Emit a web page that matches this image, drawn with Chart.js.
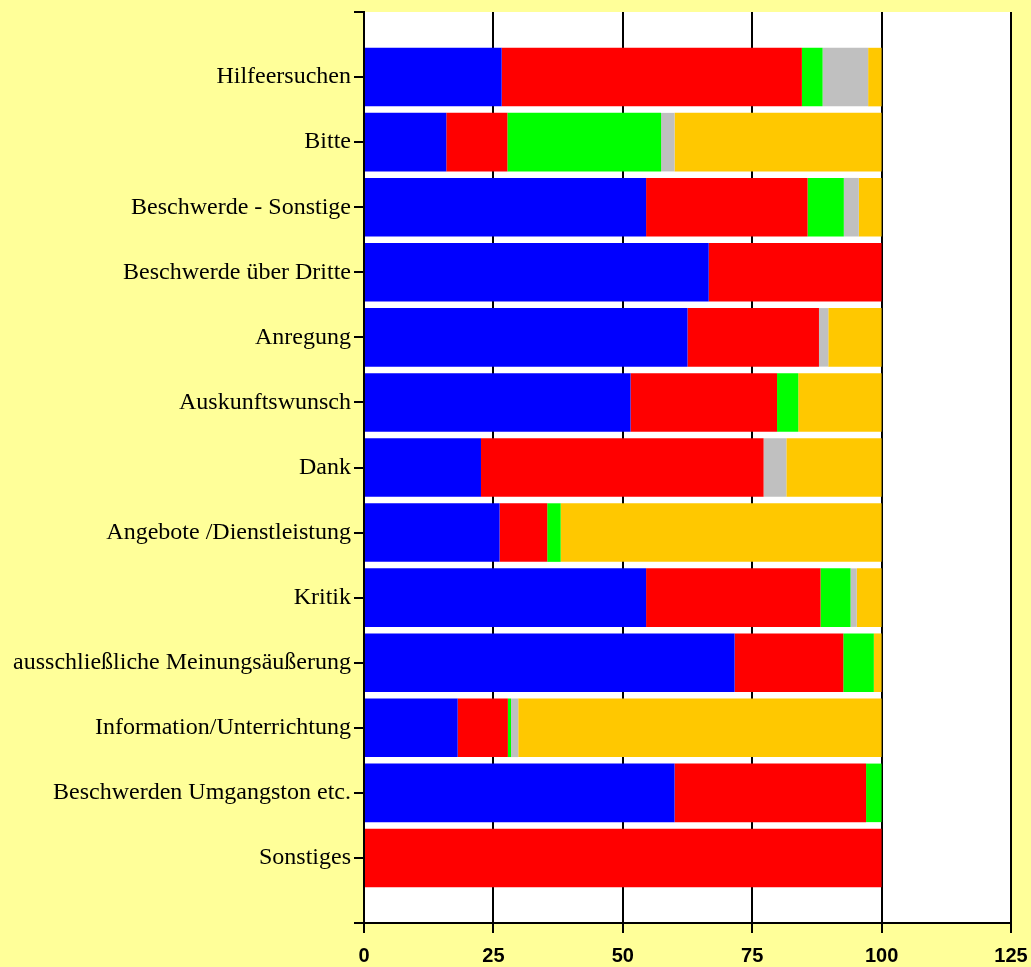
<!DOCTYPE html>
<html>
<head>
<meta charset="utf-8">
<script src="https://cdn.jsdelivr.net/npm/chart.js@4/dist/chart.umd.min.js"></script>
<style>
  html, body { margin: 0; padding: 0; background: #FFFF99; }
  #wrap { width: 1031px; height: 967px; }
</style>
</head>
<body>
<div id="wrap"><canvas id="barChart"></canvas></div>
<script>
const categories = [
  'Hilfeersuchen',
  'Bitte',
  'Beschwerde - Sonstige',
  'Beschwerde über Dritte',
  'Anregung',
  'Auskunftswunsch',
  'Dank',
  'Angebote /Dienstleistung',
  'Kritik',
  'ausschließliche Meinungsäußerung',
  'Information/Unterrichtung',
  'Beschwerden Umgangston etc.',
  'Sonstiges'
];

const blueValues   = [26.6, 15.9, 54.5, 66.6, 62.5, 51.5, 22.6, 26.2, 54.5, 71.6, 18.1, 60.0, 0];
const redValues    = [58.0, 11.8, 31.2, 33.4, 25.4, 28.3, 54.6, 9.2, 33.7, 21.0, 9.7, 37.0, 100];
const greenValues  = [4.0, 29.7, 7.0, 0, 0, 4.1, 0, 2.6, 5.8, 5.9, 0.6, 3.0, 0];
const grayValues   = [8.8, 2.6, 2.9, 0, 1.8, 0, 4.4, 0, 1.2, 0, 1.4, 0, 0];
const orangeValues = [2.6, 40.0, 4.4, 0, 10.3, 16.1, 18.4, 62.0, 4.8, 1.5, 70.2, 0, 0];

const xTicks = [0, 25, 50, 75, 100, 125];

// empty slots at both ends so the axis ends half a band further out
const labels = [''].concat(categories, ['']);
function pad(arr) {
  return [null].concat(arr, [null]);
}

const seriesColors = ['#0000FF', '#FF0000', '#00FF00', '#C0C0C0', '#FFC800'];
const seriesData = [blueValues, redValues, greenValues, grayValues, orangeValues];

const datasets = seriesData.map((vals, i) => ({
  data: pad(vals),
  backgroundColor: seriesColors[i],
  borderWidth: 0,
  barPercentage: 0.9,
  categoryPercentage: 1.0
}));

const whiteArea = {
  id: 'whiteArea',
  beforeDraw(chart) {
    const a = chart.chartArea;
    const c = chart.ctx;
    c.save();
    c.fillStyle = '#FFFFFF';
    c.fillRect(a.left, a.top, a.right - a.left, a.bottom - a.top);
    c.restore();
  }
};

const ctx = document.getElementById('barChart').getContext('2d');
new Chart(ctx, {
  type: 'bar',
  data: { labels, datasets },
  plugins: [whiteArea],
  options: {
    indexAxis: 'y',
    responsive: true,
    maintainAspectRatio: false,
    animation: false,
    layout: { padding: { top: 12, right: 20, left: 0, bottom: 0 } },
    plugins: {
      legend: { display: false },
      tooltip: { enabled: false }
    },
    scales: {
      x: {
        stacked: true,
        min: 0,
        max: 125,
        afterBuildTicks(scale) {
          scale.ticks = xTicks.map(v => ({ value: v }));
        },
        afterFit(scale) {
          scale.height = 44;
          scale.paddingLeft = 0;
          scale.paddingRight = 0;
        },
        grid: {
          color: '#000000',
          lineWidth: 2,
          tickLength: 10
        },
        border: { color: '#000000', width: 2 },
        ticks: {
          color: '#000000',
          padding: 11,
          font: { family: 'Liberation Sans', size: 20, weight: 'bold' }
        }
      },
      y: {
        stacked: true,
        offset: false,
        afterFit(scale) {
          scale.width = 364;
          scale.paddingTop = 0;
          scale.paddingBottom = 0;
        },
        grid: {
          offset: false,
          color: '#000000',
          lineWidth: 2,
          drawOnChartArea: false,
          tickLength: 10
        },
        border: { color: '#000000', width: 2 },
        ticks: {
          color: '#000000',
          autoSkip: false,
          padding: 3,
          font: { family: 'Liberation Serif', size: 24 }
        }
      }
    }
  }
});
</script>
</body>
</html>
